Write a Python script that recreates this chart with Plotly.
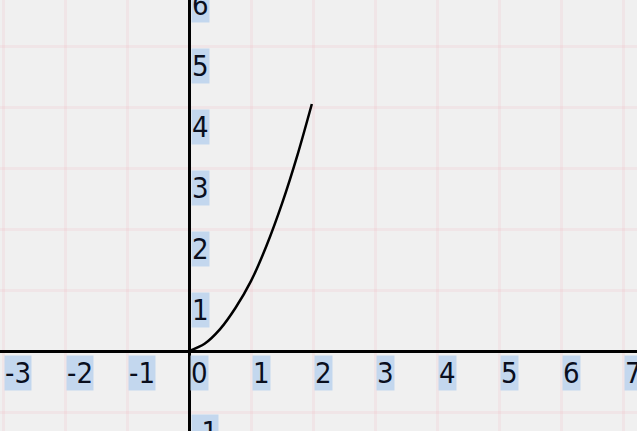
import plotly.graph_objects as go

# Curve samples
curve_x = [0.0, 0.25, 0.5, 0.75, 1.0, 1.25, 1.5, 1.75, 1.98]
curve_y = [0.0, 0.12, 0.36, 0.71, 1.15, 1.73, 2.42, 3.22, 4.05]

# Axis tick labels
x_ticks = [-3, -2, -1, 0, 1, 2, 3, 4, 5, 6, 7]
y_ticks = [-1, 1, 2, 3, 4, 5, 6]

x_range = [-3.05, 7.225]
y_range = [-1.31, 5.755]

LABEL_FONT = dict(family="DejaVu Sans Condensed, Liberation Sans Narrow, Arial Narrow, sans-serif",
                  size=29, color="#0a0f1e")
LABEL_BG = "#c3d7ee"


def y_paper(v):
    # position of a y value as a fraction of the plot height
    return (v - y_range[0]) / (y_range[1] - y_range[0])


fig = go.Figure()
fig.add_trace(go.Scatter(x=curve_x, y=curve_y, mode="lines",
                         line=dict(color="black", width=2.5, shape="spline", smoothing=0.8),
                         hoverinfo="skip", showlegend=False))

annotations = []
for v in x_ticks:
    annotations.append(dict(x=v, y=0, xref="x", yref="y", text=str(v), showarrow=False,
                            xanchor="left", yanchor="top", xshift=1, yshift=-4,
                            font=LABEL_FONT, bgcolor=LABEL_BG, borderpad=0))
for v in y_ticks:
    annotations.append(dict(x=0, y=y_paper(v), xref="x", yref="paper", text=str(v),
                            showarrow=False, xanchor="left", yanchor="top",
                            xshift=2, yshift=-2,
                            font=LABEL_FONT, bgcolor=LABEL_BG, borderpad=0))

axis_common = dict(showgrid=True, gridcolor="rgba(240,185,195,0.2)", gridwidth=3,
                   dtick=1, tick0=0, showticklabels=False, ticks="",
                   zeroline=True, zerolinecolor="black", zerolinewidth=2.5,
                   showline=False, fixedrange=True)

fig.update_layout(
    width=637, height=431,
    margin=dict(l=0, r=0, t=0, b=0),
    paper_bgcolor="#f0f0f0", plot_bgcolor="#f0f0f0",
    xaxis=dict(range=x_range, **axis_common),
    yaxis=dict(range=y_range, **axis_common),
    annotations=annotations,
    showlegend=False,
)

fig.write_html("out.html")
